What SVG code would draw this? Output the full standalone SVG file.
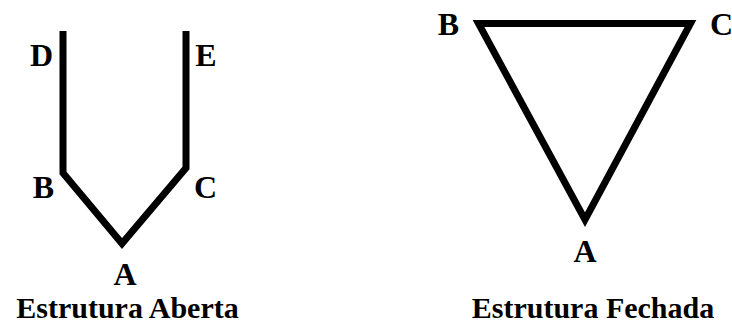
<svg xmlns="http://www.w3.org/2000/svg" width="732" height="321" viewBox="0 0 732 321">
  <style>
    .line { fill: none; stroke: #000; stroke-width: 7; stroke-linejoin: miter; stroke-linecap: butt; stroke-miterlimit: 10; }
    .lbl { font-family: "Liberation Serif", "Times New Roman", serif; font-weight: bold; font-size: 32px; fill: #000; text-anchor: middle; }
    .title { font-family: "Liberation Serif", "Times New Roman", serif; font-weight: bold; font-size: 30px; fill: #000; text-anchor: middle; }
  </style>
  <rect width="732" height="321" fill="#fff"/>
  <g id="connectors">
    <polyline class="line" points="63,31 63,173 122,243.5 186,168 186,31"/>
    <polygon class="line" points="478.5,23.5 690.5,23.5 585,219.6"/>
  </g>
  <g id="open-structure">
    <g id="open-D"><text class="lbl" x="41.5" y="66">D</text></g>
    <g id="open-E"><text class="lbl" x="206" y="66">E</text></g>
    <g id="open-B"><text class="lbl" x="43.5" y="198">B</text></g>
    <g id="open-C"><text class="lbl" x="205.5" y="198">C</text></g>
    <g id="open-A"><text class="lbl" x="125" y="285">A</text></g>
    <g id="open-title"><text class="title" x="127.5" y="318">Estrutura Aberta</text></g>
  </g>
  <g id="closed-structure">
    <g id="closed-B"><text class="lbl" x="448.5" y="35">B</text></g>
    <g id="closed-C"><text class="lbl" x="721.5" y="35">C</text></g>
    <g id="closed-A"><text class="lbl" x="585" y="262">A</text></g>
    <g id="closed-title"><text class="title" x="593" y="318">Estrutura Fechada</text></g>
  </g>
</svg>
